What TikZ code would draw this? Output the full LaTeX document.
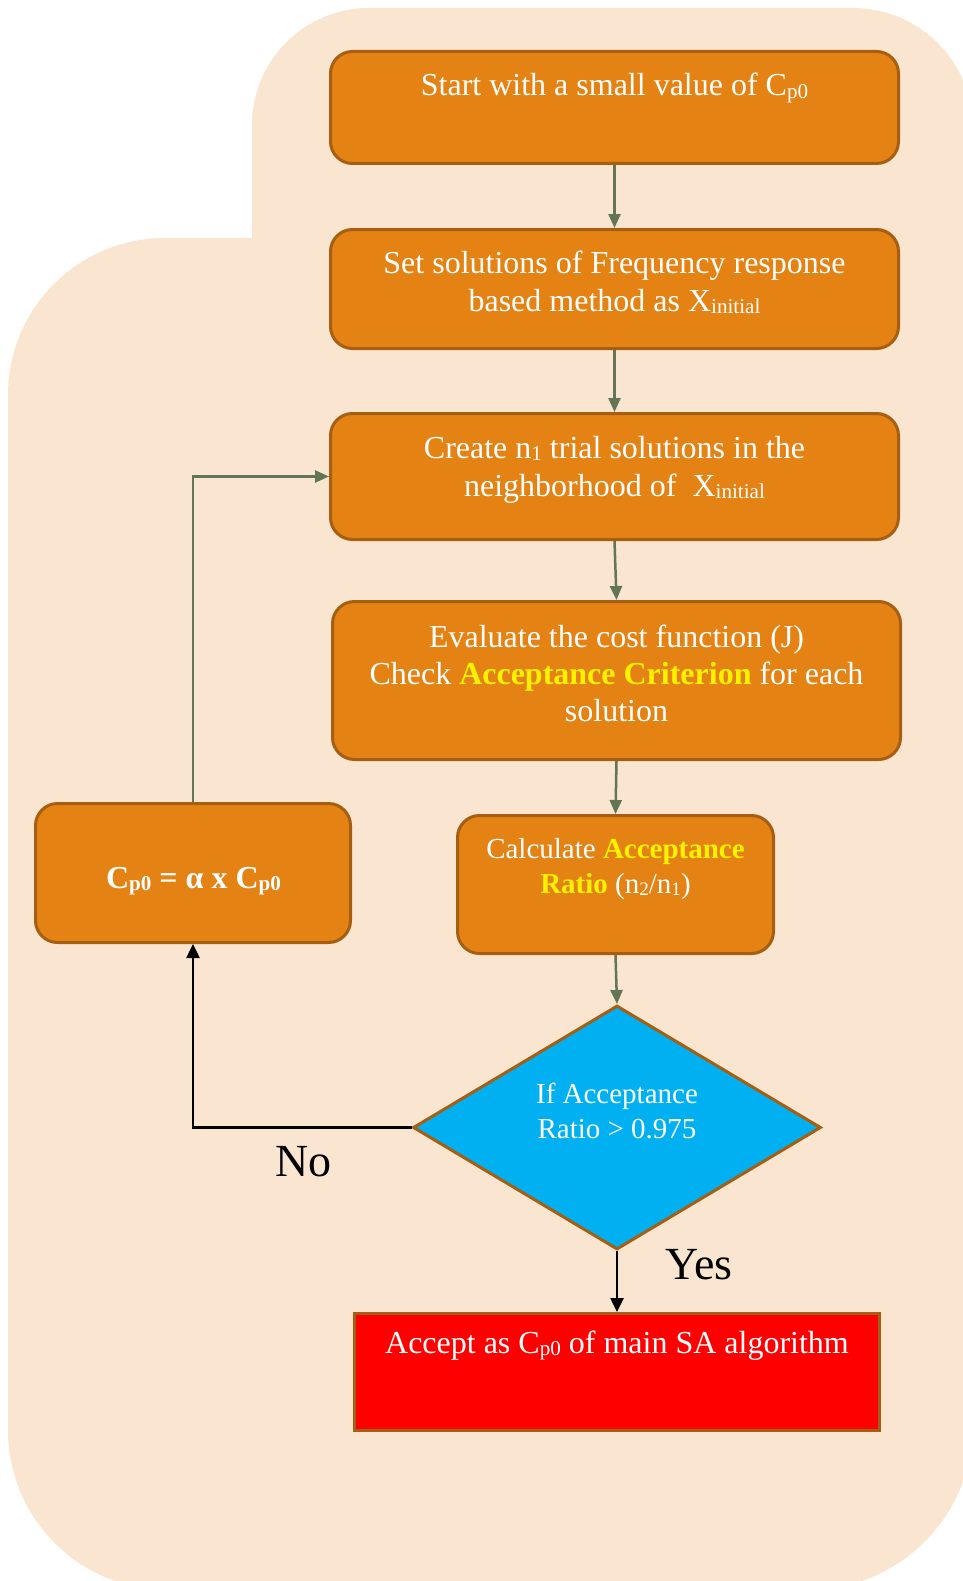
\documentclass[tikz,border=0pt]{standalone}
\usepackage{fontspec}
\setmainfont{Liberation Serif}
\usepackage{graphicx}
\usetikzlibrary{arrows.meta,shapes.geometric}
\definecolor{bgc}{HTML}{FAE6D0}
\definecolor{boxfill}{HTML}{E48214}
\definecolor{boxline}{HTML}{A65E12}
\definecolor{conn}{HTML}{637555}
\definecolor{decfill}{HTML}{00B0F0}
\definecolor{redfill}{HTML}{FF0000}
\newcommand\sbs[1]{\raisebox{-0.09em}{\scalebox{0.66}{#1}}}
\newcommand\ya[1]{\textbf{\textcolor{yellow}{#1}}}
\begin{document}
\begin{tikzpicture}[x=1pt,y=-1pt,
  stepbox/.style={draw=boxline, fill=boxfill, line width=3pt, rounded corners=22pt, inner sep=0pt},
  decbox/.style={diamond, aspect=1.664, draw=boxline, fill=decfill, line width=3pt, inner sep=0pt},
  endbox/.style={draw=boxline, fill=redfill, line width=3pt, inner sep=0pt},
  txt/.style={text=white, anchor=base, inner sep=0pt, font=\fontsize{32}{37}\selectfont},
  stxt/.style={text=white, anchor=base, inner sep=0pt, font=\fontsize{29}{34}\selectfont},
  lbl/.style={text=black, anchor=base, inner sep=0pt, font=\fontsize{46}{50}\selectfont},
  garrow/.style={draw=conn, line width=2.5pt, -{Triangle[length=14pt,width=12pt]}},
  barrow/.style={draw=black, line width=2.5pt, -{Triangle[length=14pt,width=13pt]}}]
\useasboundingbox (0,0) rectangle (963,1581);
% background
\fill[bgc] (252,238) -- (252,125) arc[start angle=180,end angle=270,radius=117]
  -- (853,8) arc[start angle=270,end angle=360,radius=120]
  -- (973,1425) arc[start angle=0,end angle=90,radius=165]
  -- (168,1590) arc[start angle=90,end angle=180,radius=160]
  -- (8,395) arc[start angle=180,end angle=270,radius=157]
  -- cycle;
% boxes
\node[stepbox, minimum width=568pt, minimum height=112pt] (b1) at (614.5,107.5) {};
\node[stepbox, minimum width=568pt, minimum height=119pt] (b2) at (614.5,289) {};
\node[stepbox, minimum width=568pt, minimum height=126pt] (b3) at (614.5,476.5) {};
\node[stepbox, minimum width=568pt, minimum height=158pt] (b4) at (616.5,680.5) {};
\node[stepbox, minimum width=316pt, minimum height=138pt] (b5) at (615.5,884.5) {};
\node[stepbox, minimum width=315pt, minimum height=139pt] (cp) at (193,873) {};
\node[decbox, minimum width=408pt, minimum height=244pt] (dec) at (617,1127.5) {};
\node[endbox, minimum width=525pt, minimum height=117pt] (red) at (617,1372) {};
% texts
\node[txt] (t1) at (614.5,96) {Start with a small value of C\sbs{p0}};
\node[txt] (t2a) at (614.5,273) {Set solutions of Frequency response};
\node[txt] (t2b) at (614.5,311) {based method as X\sbs{initial}};
\node[txt] (t3a) at (614.5,458) {Create n\sbs{1} trial solutions in the};
\node[txt] (t3b) at (614.5,496) {neighborhood of \ X\sbs{initial}};
\node[txt] (t4a) at (616.5,647) {Evaluate the cost function (J)};
\node[txt] (t4b) at (616.5,684) {Check \ya{Acceptance Criterion} for each};
\node[txt] (t4c) at (616.5,721) {solution};
\node[stxt] (t5a) at (615.5,858) {Calculate \ya{Acceptance}};
\node[stxt] (t5b) at (615.5,893) {\ya{Ratio} (n\sbs{2}/n\sbs{1})};
\node[txt] (tcp) at (193.5,888) {\textbf{C\sbs{p0} = α x C\sbs{p0}}};
\node[stxt] (tda) at (617,1103) {If Acceptance};
\node[stxt] (tdb) at (617,1138) {Ratio > 0.975};
\node[txt] (tred) at (617,1353) {Accept as C\sbs{p0} of main SA algorithm};
\node[lbl] (no) at (303.5,1176) {No};
\node[lbl] (yes) at (699,1279) {Yes};
% connectors
\draw[garrow] (b1.south) -- (b2.north);
\draw[garrow] (b2.south) -- (b3.north);
\draw[garrow] (b3.south) -- (b4.north);
\draw[garrow] (b4.south) -- (b5.north);
\draw[garrow] (b5.south) -- (dec.north);
\draw[garrow] (cp.north) |- (b3.west);
\draw[barrow] (dec.west) -| (cp.south);
\draw[barrow] (dec.south) -- (red.north);
\end{tikzpicture}
\end{document}
